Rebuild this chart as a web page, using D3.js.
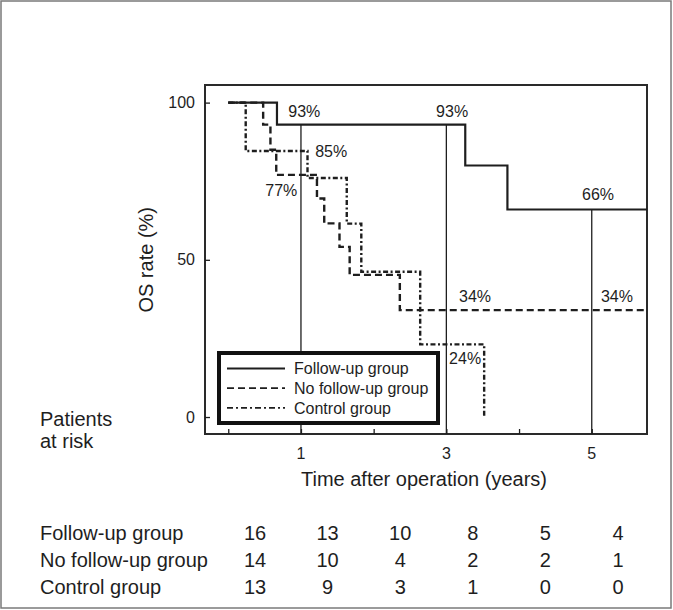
<!DOCTYPE html>
<html>
<head>
<meta charset="utf-8">
<script src="https://cdn.jsdelivr.net/npm/d3@7"></script>
<style>
  html, body { margin: 0; padding: 0; background: #fff; }
  svg { display: block; }
  text { font-family: "Liberation Sans", Arial, sans-serif; fill: #1e1e1e; }
</style>
</head>
<body>
<svg id="chart" width="673" height="610"></svg>
<script>
// ---- data ----
const seriesNames = ["Follow-up group", "No follow-up group", "Control group"];
// Kaplan-Meier steps: [time (years), OS rate (%)]
const followUpSteps   = [[0,100],[0.67,93],[3.26,80],[3.84,66],[5.76,66]];
const noFollowUpSteps = [[0,100],[0.48,93],[0.58,85],[0.66,77],[1.22,69.5],[1.32,61.6],[1.53,54.1],[1.67,45.2],[2.36,34],[5.76,34]];
const controlSteps    = [[0,100],[0.24,84.6],[1.09,76],[1.63,61.5],[1.83,46.2],[2.64,23.1],[3.52,0]];
const yTicks = [0, 50, 100];
const xMinorTicks = [0, 1, 2, 3, 4, 5];
const xTickLabels = [1, 3, 5];
// reference verticals: [time, rate where it starts]
const refLines = [[1, 93], [3, 93], [5, 66]];
// annotations: [text, time, rate]
const pctLabels = [["93%",0.825,97.3],["85%",1.196,84.4],["77%",0.509,72.2],["93%",2.859,97.3],
                   ["66%",4.866,70.9],["34%",3.175,38.3],["34%",5.127,38.3],["24%",3.038,18.8]];
// patients at risk
const riskTimes = [0, 1, 2, 3, 4, 5];
const riskFollowUp   = [16, 13, 10, 8, 5, 4];
const riskNoFollowUp = [14, 10, 4, 2, 2, 1];
const riskControl    = [13, 9, 3, 1, 0, 0];

// ---- drawing ----
const svg = d3.select("#chart");
const L = 205, R = 647, T = 85, B = 434;
const x = d3.scaleLinear().domain([-0.32, 5.76]).range([L, R]);
const y = d3.scaleLinear().domain([-5.4, 105.6]).range([B, T]);
const ink = "#1e1e1e";

// outer frame
svg.append("rect").attr("x", 1).attr("y", 1).attr("width", 670).attr("height", 607)
  .attr("fill", "none").attr("stroke", "#7a7a7a").attr("stroke-width", 1.5);

// plot frame
svg.append("rect").attr("x", L).attr("y", T).attr("width", R - L).attr("height", B - T)
  .attr("fill", "none").attr("stroke", "#2a2a2a").attr("stroke-width", 2);

// y axis ticks (inside)
const yAxis = d3.axisRight(y).tickValues(yTicks).tickSize(5).tickFormat("");
const gy = svg.append("g").attr("transform", `translate(${L},0)`).call(yAxis);
gy.select(".domain").remove();
gy.selectAll("line").attr("stroke", ink).attr("stroke-width", 1.3);
svg.append("g").selectAll("text").data(yTicks).join("text")
  .attr("x", 195).attr("y", d => y(d)).attr("dy", "0.35em")
  .attr("text-anchor", "end").attr("font-size", 16).text(d => d);

// x axis ticks (inside)
const xAxis = d3.axisTop(x).tickValues(xMinorTicks).tickSize(5).tickFormat("");
const gx = svg.append("g").attr("transform", `translate(0,${B})`).call(xAxis);
gx.select(".domain").remove();
gx.selectAll("line").attr("stroke", ink).attr("stroke-width", 1.3);
svg.append("g").selectAll("text").data(xTickLabels).join("text")
  .attr("x", d => x(d)).attr("y", 453).attr("dy", "0.35em")
  .attr("text-anchor", "middle").attr("font-size", 16).text(d => d);

// axis titles
svg.append("text").attr("x", 424).attr("y", 479).attr("dy", "0.35em")
  .attr("text-anchor", "middle").attr("font-size", 20).text("Time after operation (years)");
svg.append("text").attr("transform", `translate(146,${y(50)}) rotate(-90)`).attr("dy", "0.35em")
  .attr("text-anchor", "middle").attr("font-size", 20).text("OS rate (%)");

// reference verticals
svg.append("g").selectAll("line").data(refLines).join("line")
  .attr("x1", d => x(d[0])).attr("x2", d => x(d[0]))
  .attr("y1", d => y(d[1])).attr("y2", B)
  .attr("stroke", ink).attr("stroke-width", 1.3);

// curves
const line = d3.line().x(d => x(d[0])).y(d => y(d[1])).curve(d3.curveStepAfter);
const styles = [
  { data: followUpSteps,   dash: null,      w: 2.2 },
  { data: noFollowUpSteps, dash: "7,4",     w: 2.4 },
  { data: controlSteps,    dash: "5,2.5,2,2.5", w: 2.4 }
];
styles.forEach(s => {
  svg.append("path").datum(s.data).attr("d", line)
    .attr("fill", "none").attr("stroke", ink).attr("stroke-width", s.w)
    .attr("stroke-dasharray", s.dash);
});

// percentage labels
svg.append("g").selectAll("text").data(pctLabels).join("text")
  .attr("x", d => x(d[1])).attr("y", d => y(d[2])).attr("dy", "0.35em")
  .attr("font-size", 16).text(d => d[0]);

// legend
const lg = svg.append("g");
lg.append("rect").attr("x", 219).attr("y", 353).attr("width", 219).attr("height", 70)
  .attr("fill", "#fff").attr("stroke", "#111").attr("stroke-width", 4);
const legendDash = [null, "7,4", "6,3,2,3"];
seriesNames.forEach((n, i) => {
  const cy = 368.5 + i * 19.7;
  lg.append("line").attr("x1", 227).attr("x2", 285).attr("y1", cy).attr("y2", cy)
    .attr("stroke", ink).attr("stroke-width", 1.8).attr("stroke-dasharray", legendDash[i]);
  lg.append("text").attr("x", 294).attr("y", cy).attr("dy", "0.35em")
    .attr("font-size", 16).text(n);
});

// patients at risk
svg.append("text").attr("x", 40).attr("y", 419).attr("dy", "0.35em").attr("font-size", 20).text("Patients");
svg.append("text").attr("x", 40).attr("y", 441).attr("dy", "0.35em").attr("font-size", 20).text("at risk");

const col = d3.scalePoint().domain(riskTimes).range([255, 618]);
const rows = [riskFollowUp, riskNoFollowUp, riskControl];
const rowY = d3.scalePoint().domain([0, 1, 2]).range([533, 587]);
rows.forEach((r, i) => {
  svg.append("text").attr("x", 40).attr("y", rowY(i)).attr("dy", "0.35em")
    .attr("font-size", 20).text(seriesNames[i]);
  svg.append("g").selectAll("text").data(r).join("text")
    .attr("x", (d, j) => col(riskTimes[j])).attr("y", rowY(i)).attr("dy", "0.35em")
    .attr("text-anchor", "middle").attr("font-size", 20).text(d => d);
});
</script>
</body>
</html>
